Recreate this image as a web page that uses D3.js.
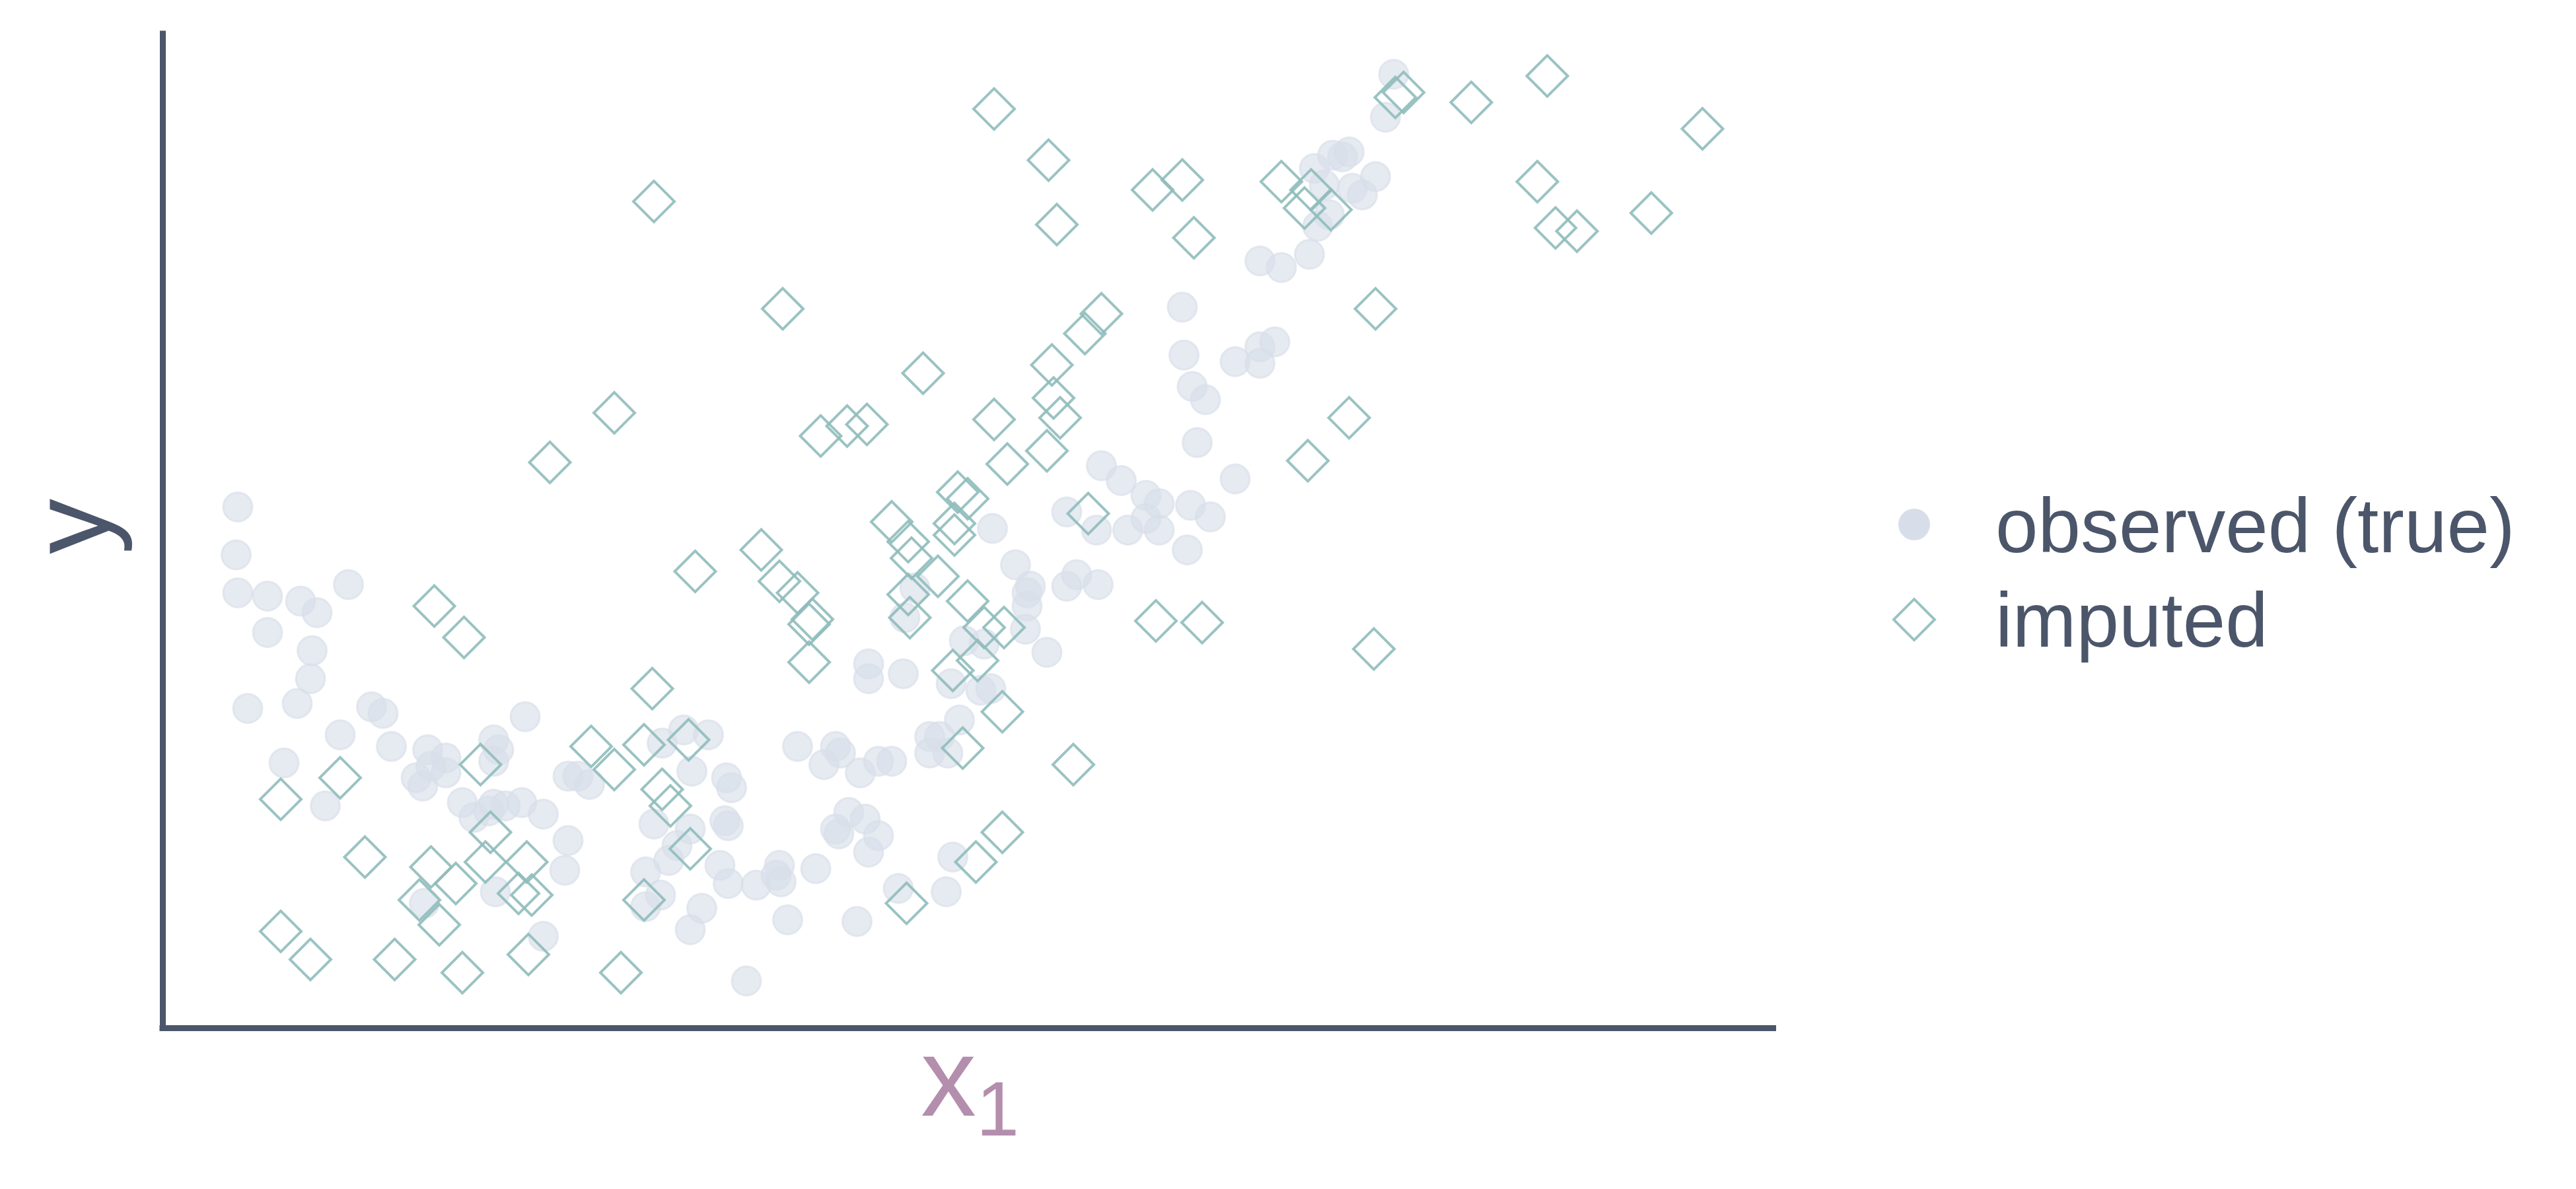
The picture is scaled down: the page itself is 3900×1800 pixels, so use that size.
<!DOCTYPE html>
<html>
<head>
<meta charset="utf-8">
<script src="https://cdn.jsdelivr.net/npm/d3@7/dist/d3.min.js"></script>
<style>
  html, body { margin: 0; padding: 0; background: #ffffff; }
  svg { display: block; }
</style>
</head>
<body>
<svg id="chart" width="3900" height="1800"></svg>
<script>
// values (arbitrary units, no tick labels shown)
const observedX1 = [144,143,144,162,182,192,211,162,189,188,150,180,225,232,206,237,172,197,259,270,
  261,252,256,270,299,302,299,318,280,287,299,306,316,296,329,344,342,300,257,329,
  344,350,357,401,414,429,419,396,418,410,405,391,400,391,425,418,440,443,439,441,
  436,441,458,472,470,473,494,477,519,544,573,577,452,483,506,509,499,521,532,540,
  514,524,506,508,532,526,563,569,563,574,581,576,594,600,584,596,526,526,547,554,
  548,601,615,624,622,622,621,634,646,652,665,646,664,683,694,702,719,667,679,694,
  702,721,733,748,716,717,722,730,725,748,763,772,763,763,776,793,798,805,796,819,
  825,833,807,813,817,839,844,802];
const observedY = [323,294,271,269,266,259,276,247,236,219,201,204,202,198,185,178,168,142,176,171,
  166,159,154,162,182,176,169,196,144,135,143,142,144,139,137,121,103,90,83,63,
  160,160,155,180,188,185,163,131,128,118,109,102,88,81,80,67,159,153,133,130,
  106,95,94,106,100,96,104,73,72,92,90,111,36,178,178,174,167,162,169,169,
  138,134,128,125,124,114,184,184,174,174,194,216,212,213,242,240,228,219,222,274,
  256,310,288,275,271,263,249,235,275,282,276,320,309,309,316,309,297,348,339,330,
  325,324,317,340,444,415,396,388,362,411,420,423,410,472,468,476,493,500,528,516,
  512,523,536,535,538,559,585,518];

const imputedX1 = [602,396,635,640,698,716,723,776,794,790,806,845,850,891,937,1031,931,942,955,1000,
  833,817,792,700,728,832,474,372,333,559,667,657,637,638,642,602,634,610,497,513,
  525,580,586,578,578,421,461,472,483,492,490,490,540,550,552,550,551,568,586,596,
  608,592,577,607,583,650,607,591,549,659,417,418,263,281,395,170,206,221,261,291,
  297,294,319,276,254,266,314,322,358,372,390,401,406,390,170,188,239,280,320,376];
const imputedY = [564,508,533,494,515,521,486,520,515,504,503,571,574,568,584,552,520,492,490,501,
  443,377,351,254,253,237,443,380,350,404,440,428,409,389,377,376,357,349,366,372,
  373,332,328,313,306,284,297,278,271,255,252,229,314,302,292,270,256,281,266,250,
  250,230,224,199,177,167,126,108,83,319,182,116,263,244,213,146,159,111,105,167,
  126,108,108,95,85,70,89,88,178,164,179,152,142,85,66,49,49,41,52,41];

const xDomain = [98.4, 1075.6];
const yDomain = [7.6, 611.6];
const legendLabels = ['observed (true)', 'imputed'];

const axisColor = '#4c566a';
const obsColor = '#d8dee9';
const impColor = '#8fbcbb';
const fontStack = '"Liberation Sans", Arial, Helvetica, sans-serif';

const svg = d3.select('#chart');

const x = d3.scaleLinear().domain(xDomain).range([246, 2689]);
const y = d3.scaleLinear().domain(yDomain).range([1556, 46]);

const observed = observedX1.map((v, i) => ({ x: v, y: observedY[i] }));
const imputed = imputedX1.map((v, i) => ({ x: v, y: imputedY[i] }));

// Observed points
svg.append('g')
  .selectAll('circle')
  .data(observed)
  .enter().append('circle')
  .attr('cx', d => x(d.x))
  .attr('cy', d => y(d.y))
  .attr('r', 22)
  .attr('fill', obsColor)
  .attr('fill-opacity', 0.65)
  .attr('stroke', obsColor)
  .attr('stroke-opacity', 0.65)
  .attr('stroke-width', 3);

// Imputed points (square turned 45deg)
const diamond = d3.symbol().type(d3.symbolSquare).size(1920);

svg.append('g')
  .selectAll('path')
  .data(imputed)
  .enter().append('path')
  .attr('d', diamond)
  .attr('transform', d => `translate(${x(d.x)},${y(d.y)}) rotate(45)`)
  .attr('fill', 'none')
  .attr('stroke', impColor)
  .attr('stroke-opacity', 0.9)
  .attr('stroke-width', 4);

// Axes, no ticks
const xAxis = svg.append('g')
  .attr('transform', 'translate(0,1556)')
  .call(d3.axisBottom(x).tickValues([]).tickSizeOuter(0));
const yAxis = svg.append('g')
  .attr('transform', 'translate(246,0)')
  .call(d3.axisLeft(y).tickValues([]).tickSizeOuter(0));

[xAxis, yAxis].forEach(a => {
  a.select('.domain')
    .attr('stroke', axisColor)
    .attr('stroke-width', 9);
});
xAxis.select('.domain').attr('d', 'M241.5,0.5H2689');

// Axis titles
const xTitle = svg.append('text')
  .attr('x', 1394)
  .attr('y', 1689)
  .attr('fill', '#b48ead')
  .style('font-family', fontStack)
  .style('font-size', '168px');
xTitle.append('tspan').text('x');
xTitle.append('tspan')
  .attr('dy', 30)
  .style('font-size', '117px')
  .text('1');

svg.append('text')
  .attr('transform', 'translate(165,797) rotate(-90)')
  .attr('text-anchor', 'middle')
  .attr('fill', axisColor)
  .style('font-family', fontStack)
  .style('font-size', '168px')
  .text('y');

// Legend
const legend = svg.append('g');

legend.append('circle')
  .attr('cx', 2898)
  .attr('cy', 794)
  .attr('r', 24)
  .attr('fill', obsColor);

legend.append('path')
  .attr('d', diamond)
  .attr('transform', 'translate(2898,938) rotate(45)')
  .attr('fill', 'none')
  .attr('stroke', impColor)
  .attr('stroke-opacity', 0.9)
  .attr('stroke-width', 4);

legend.selectAll('text')
  .data(legendLabels)
  .enter().append('text')
  .attr('x', 3021)
  .attr('y', (d, i) => 836 + i * 143)
  .attr('fill', axisColor)
  .style('font-family', fontStack)
  .style('font-size', '116px')
  .text(d => d);
</script>
</body>
</html>
